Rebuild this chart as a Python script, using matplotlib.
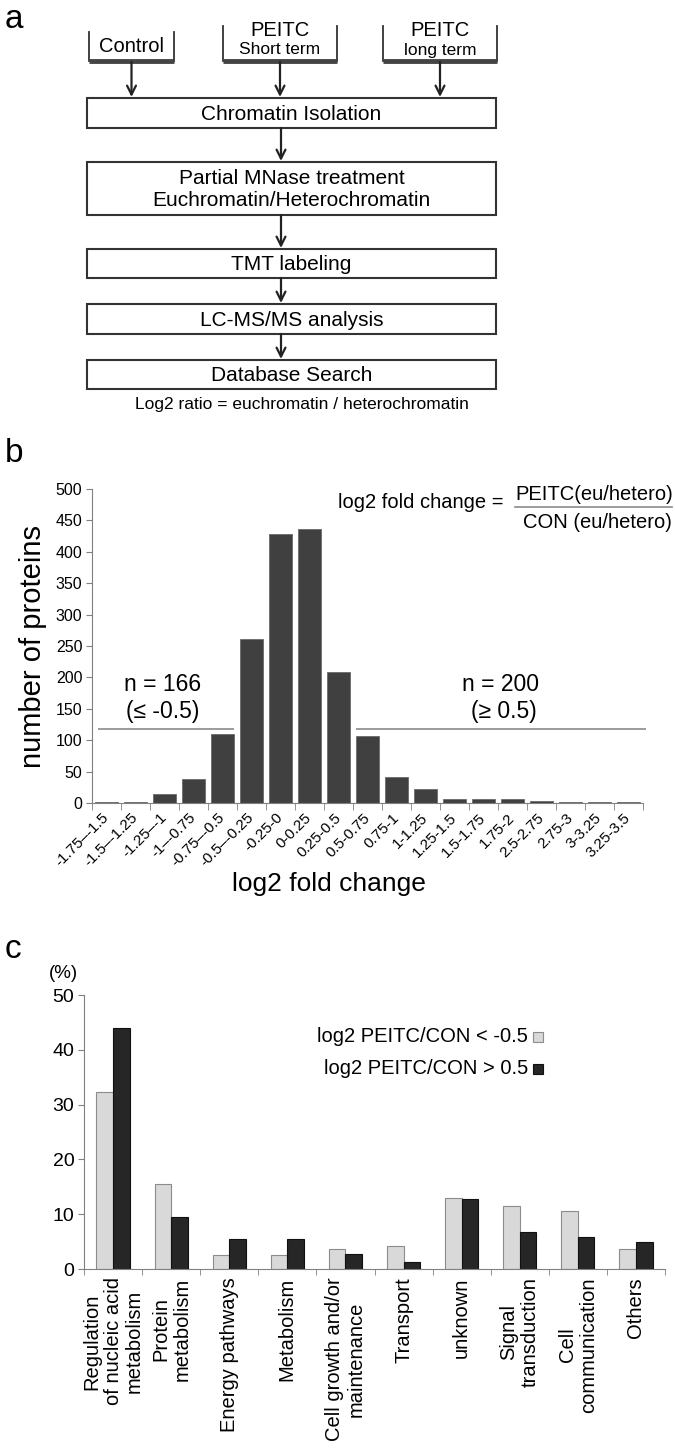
import numpy as np
import matplotlib
matplotlib.use('Agg')
import matplotlib.pyplot as plt
from matplotlib import font_manager
from matplotlib.patches import Rectangle

names = {f.name for f in font_manager.fontManager.ttflist}
plt.rcParams['font.family'] = ['Liberation Sans', 'DejaVu Sans']
narrow = 'Liberation Sans Narrow' if 'Liberation Sans Narrow' in names else 'Liberation Sans'

# panel a - workflow
sources = ['Control', 'PEITC', 'PEITC']
source_sub = ['', 'Short term', 'long term']
steps = ['Chromatin Isolation',
         'Partial MNase treatment\nEuchromatin/Heterochromatin',
         'TMT labeling', 'LC-MS/MS analysis', 'Database Search']
ratio_note = 'Log2 ratio = euchromatin / heterochromatin'

# panel b - histogram of log2 fold change
fc_bins = ['-1.75–-1.5', '-1.5–-1.25', '-1.25–-1', '-1–-0.75', '-0.75–-0.5',
           '-0.5–-0.25', '-0.25-0', '0-0.25', '0.25-0.5', '0.5-0.75', '0.75-1',
           '1-1.25', '1.25-1.5', '1.5-1.75', '1.75-2', '2.5-2.75', '2.75-3',
           '3-3.25', '3.25-3.5']
fc_counts = [1, 2, 14, 39, 110, 261, 428, 437, 209, 106, 42, 23, 7, 7, 7, 3, 1, 1, 1]
n_down, n_up = 166, 200

# panel c - functional categories
categories = ['Regulation\nof nucleic acid\nmetabolism', 'Protein\nmetabolism',
              'Energy pathways', 'Metabolism', 'Cell growth and/or\nmaintenance',
              'Transport', 'unknown', 'Signal\ntransduction', 'Cell\ncommunication',
              'Others']
pct_down = [32.3, 15.6, 2.6, 2.6, 3.7, 4.2, 13.0, 11.5, 10.5, 3.7]
pct_up = [44.0, 9.5, 5.5, 5.5, 2.7, 1.3, 12.7, 6.7, 5.9, 5.0]
legend_labels = ['log2 PEITC/CON < -0.5', 'log2 PEITC/CON > 0.5']

W, H = 675, 1448
fig = plt.figure(figsize=(W / 100, H / 100), dpi=100)

# canvas in pixel units for the diagram and loose text
ax_a = fig.add_axes([0, 0, 1, 1])
ax_a.set_xlim(0, W)
ax_a.set_ylim(H, 0)
ax_a.axis('off')

ax_a.text(5, 4, 'a', fontsize=24, va='top', ha='left')
ax_a.text(5, 438, 'b', fontsize=24, va='top', ha='left')
ax_a.text(5, 934, 'c', fontsize=24, va='top', ha='left')

# source brackets
brackets = [(89, 174, 32), (223, 337, 26), (383, 497, 26)]
for (x0, x1, yt), s, sub in zip(brackets, sources, source_sub):
    ax_a.plot([x0, x0], [yt, 61], color='#333333', lw=1.3)
    ax_a.plot([x1, x1], [yt, 61], color='#333333', lw=1.3)
    ax_a.plot([x0, x1], [61, 61], color='#444444', lw=3.5, solid_capstyle='butt')
    xc = (x0 + x1) / 2
    if sub:
        ax_a.text(xc, 30, s, fontsize=14.5, ha='center', va='center', family=narrow)
        ax_a.text(xc, 50, sub, fontsize=12.5, ha='center', va='center', family=narrow)
    else:
        ax_a.text(xc, 47, s, fontsize=14.5, ha='center', va='center', family=narrow)
    ax_a.annotate('', xy=(xc, 97), xytext=(xc, 62),
                  arrowprops=dict(arrowstyle='->', lw=1.6, color='#222222',
                                  shrinkA=0, shrinkB=0, mutation_scale=16))

# step boxes
box_y = [(98, 128), (162, 215), (249, 278), (304, 334), (360, 389)]
for i, ((y0, y1), s) in enumerate(zip(box_y, steps)):
    ax_a.add_patch(Rectangle((87, y0), 409, y1 - y0, fill=False, lw=1.5, ec='#333333'))
    ax_a.text(291.5, (y0 + y1) / 2 + 1, s, fontsize=15, ha='center', va='center',
              linespacing=1.2, family=narrow)
    if i < len(steps) - 1:
        ax_a.annotate('', xy=(281, box_y[i + 1][0] - 1), xytext=(281, y1),
                      arrowprops=dict(arrowstyle='->', lw=1.6, color='#222222',
                                      shrinkA=0, shrinkB=0, mutation_scale=16))
ax_a.text(302, 405, ratio_note, fontsize=12.5, ha='center', va='center', family=narrow)

# panel b
ax_b = fig.add_axes([92 / W, 1 - 803 / H, 551 / W, 314 / H])
ax_b.patch.set_visible(False)
xb = np.arange(len(fc_counts))
ax_b.bar(xb, fc_counts, width=0.76, color='#404040', edgecolor='#6a6a6a', lw=0.6)
ax_b.set_xlim(-0.5, len(fc_counts) - 0.5)
ax_b.set_ylim(0, 500)
ax_b.set_yticks(np.arange(0, 501, 50))
ax_b.set_xticks(xb)
ax_b.set_xticklabels(fc_bins, rotation=45, ha='right', va='center',
                     rotation_mode='anchor', fontsize=11)
ax_b.set_xticks(np.arange(-0.5, len(fc_counts), 1), minor=True)
ax_b.tick_params(axis='x', which='major', length=0, pad=9)
ax_b.tick_params(axis='x', which='minor', length=5, color='#808080')
ax_b.tick_params(axis='y', length=4, color='#808080', labelsize=11.5, pad=3)
for sp in ['top', 'right']:
    ax_b.spines[sp].set_visible(False)
for sp in ['left', 'bottom']:
    ax_b.spines[sp].set_color('#808080')
ax_b.set_ylabel('number of proteins', fontsize=21)
ax_b.yaxis.set_label_coords(-0.082, 0.5)
ax_b.set_xlabel('log2 fold change', fontsize=19)
ax_b.xaxis.set_label_coords(0.43, -0.22)

ax_b.hlines(118, -0.3, 4.38, color='#8a8a8a', lw=1.2, clip_on=False)
ax_b.hlines(118, 8.62, 18.6, color='#8a8a8a', lw=1.2, clip_on=False)
ax_b.text(1.95, 188, 'n = %d' % n_down, fontsize=16.5, ha='center', va='center')
ax_b.text(1.95, 145, '(≤ -0.5)', fontsize=16.5, ha='center', va='center')
ax_b.text(13.6, 188, 'n = %d' % n_up, fontsize=16.5, ha='center', va='center')
ax_b.text(13.7, 145, '(≥ 0.5)', fontsize=16.5, ha='center', va='center')

# fold change definition
ax_a.text(504, 503, 'log2 fold change =', fontsize=14.5, ha='right', va='center',
          family=narrow, zorder=5)
ax_a.text(594, 495, 'PEITC(eu/hetero)', fontsize=14.5, ha='center', va='center',
          family=narrow, zorder=5)
ax_a.plot([515, 672], [507, 507], color='#8a8a8a', lw=1.2)
ax_a.text(597, 522, 'CON (eu/hetero)', fontsize=14.5, ha='center', va='center',
          family=narrow, zorder=5)

# panel c
ax_c = fig.add_axes([84 / W, 1 - 1269 / H, 581 / W, 274 / H])
ax_c.patch.set_visible(False)
xc = np.arange(len(categories))
w = 0.285
ax_c.bar(xc - w / 2, pct_down, w, color='#d9d9d9', edgecolor='#8c8c8c', lw=0.8)
ax_c.bar(xc + w / 2, pct_up, w, color='#262626', edgecolor='#111111', lw=0.8)
ax_c.set_xlim(-0.5, len(categories) - 0.5)
ax_c.set_ylim(0, 50)
ax_c.set_yticks(np.arange(0, 51, 10))
ax_c.set_xticks(xc)
ax_c.set_xticklabels(categories, rotation=90, fontsize=14.5, linespacing=1.15)
ax_c.set_xticks(np.arange(-0.5, len(categories), 1), minor=True)
ax_c.tick_params(axis='x', which='major', length=0, pad=6)
ax_c.tick_params(axis='x', which='minor', length=4, color='#808080')
ax_c.tick_params(axis='y', length=4, color='#808080', labelsize=14, pad=3)
for sp in ['top', 'right']:
    ax_c.spines[sp].set_visible(False)
for sp in ['left', 'bottom']:
    ax_c.spines[sp].set_color('#808080')
ax_a.text(63, 973, '(%)', fontsize=13.5, ha='center', va='center')

# legend (text on the left of the swatch)
leg_y = [1037, 1069]
leg_fc = ['#d9d9d9', '#262626']
leg_ec = ['#8c8c8c', '#111111']
for yy, lab, fc, ec in zip(leg_y, legend_labels, leg_fc, leg_ec):
    ax_a.text(528, yy, lab, fontsize=14.5, ha='right', va='center')
    ax_a.add_patch(Rectangle((533, yy - 5), 10, 10, fc=fc, ec=ec, lw=0.8))

fig.savefig('out.png', dpi=100)
